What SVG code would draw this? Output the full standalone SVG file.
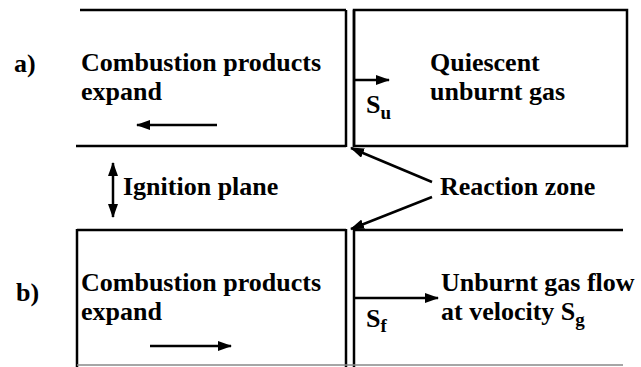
<svg xmlns="http://www.w3.org/2000/svg" width="641" height="367" viewBox="0 0 641 367">
<defs>
<marker id="ah" viewBox="0 0 14 10" refX="13" refY="5" markerWidth="14" markerHeight="10" markerUnits="userSpaceOnUse" orient="auto-start-reverse">
<path d="M0,0 L14,5 L0,10 Z" fill="#000"/>
</marker>
</defs>
<rect width="641" height="367" fill="#fff"/>
<g id="panel-a">
<g stroke="#000" stroke-width="2.5" fill="none">
<line x1="80" y1="10" x2="346" y2="10"/>
<line x1="76" y1="146" x2="346" y2="146"/>
<line x1="346" y1="10" x2="346" y2="147"/>
<line x1="354" y1="10" x2="354" y2="147"/>
<rect x="354" y="10" width="273" height="136"/>
</g>
<text font-family="Liberation Serif" font-weight="bold" font-size="26" x="14" y="72">a)</text>
<text font-family="Liberation Serif" font-weight="bold" font-size="26" x="81" y="71">Combustion products</text>
<text font-family="Liberation Serif" font-weight="bold" font-size="26" x="81" y="100">expand</text>
<text font-family="Liberation Serif" font-weight="bold" font-size="26" x="430" y="71">Quiescent</text>
<text font-family="Liberation Serif" font-weight="bold" font-size="26" x="430" y="100">unburnt gas</text>
<text font-family="Liberation Serif" font-weight="bold" font-size="26" x="366" y="113">S<tspan font-size="19" dy="6">u</tspan></text>
</g>
<g id="panel-b">
<g stroke="#000" stroke-width="2.5" fill="none">
<line x1="77" y1="230" x2="346" y2="230"/>
<line x1="354" y1="230" x2="623" y2="230"/>
<line x1="77" y1="229" x2="77" y2="367"/>
<line x1="346" y1="229" x2="346" y2="367"/>
<line x1="354" y1="229" x2="354" y2="367"/>
</g>
<line x1="77" y1="365" x2="623" y2="365" stroke="#888" stroke-width="1.5"/>
<text font-family="Liberation Serif" font-weight="bold" font-size="26" x="16" y="301">b)</text>
<text font-family="Liberation Serif" font-weight="bold" font-size="26" x="81" y="291">Combustion products</text>
<text font-family="Liberation Serif" font-weight="bold" font-size="26" x="81" y="320">expand</text>
<text font-family="Liberation Serif" font-weight="bold" font-size="26" x="441" y="291">Unburnt gas flow</text>
<text font-family="Liberation Serif" font-weight="bold" font-size="26" x="441" y="320">at velocity S<tspan font-size="19" dy="6">g</tspan></text>
<text font-family="Liberation Serif" font-weight="bold" font-size="26" x="366" y="327">S<tspan font-size="19" dy="5">f</tspan></text>
</g>
<g id="ignition">
<text font-family="Liberation Serif" font-weight="bold" font-size="26" x="123" y="195">Ignition plane</text>
</g>
<g id="reaction-zone">
<text font-family="Liberation Serif" font-weight="bold" font-size="26" x="440" y="195">Reaction zone</text>
</g>
<g id="connectors" stroke="#000" stroke-width="2.5" fill="none">
<line x1="217" y1="125" x2="137" y2="125" marker-end="url(#ah)"/>
<line x1="150" y1="346" x2="231" y2="346" marker-end="url(#ah)"/>
<line x1="355" y1="80" x2="389" y2="80" marker-end="url(#ah)"/>
<line x1="355" y1="298" x2="438" y2="298" marker-end="url(#ah)"/>
<line x1="113" y1="163" x2="113" y2="217" marker-start="url(#ah)" marker-end="url(#ah)"/>
<line x1="432" y1="182" x2="351" y2="148" marker-end="url(#ah)"/>
<line x1="432" y1="197" x2="351" y2="229" marker-end="url(#ah)"/>
</g>
</svg>
